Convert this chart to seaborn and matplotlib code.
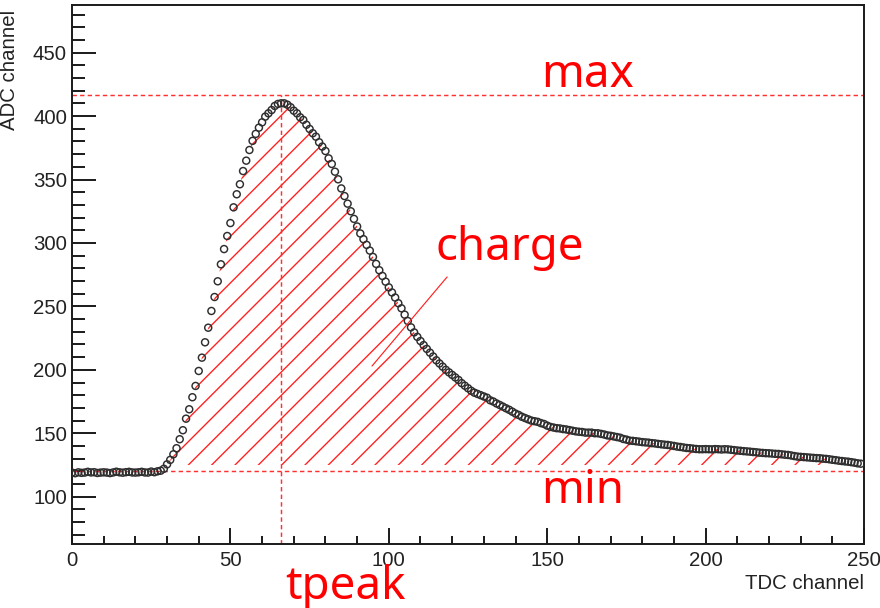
import matplotlib
matplotlib.use("Agg")
import matplotlib.pyplot as plt
import seaborn as sns
import numpy as np
import pandas as pd
from matplotlib.ticker import MultipleLocator

# ---------------- data ----------------
tdc_channel = list(range(250))
adc_value = [
    # 0-27 baseline
    119.0, 118.5, 119.2, 118.8, 119.0, 119.6, 119.1, 119.3, 118.7, 119.0,
    119.2, 119.0, 118.6, 119.1, 119.7, 119.2, 118.9, 119.3, 119.6, 119.1,
    119.0, 119.2, 119.6, 119.1, 119.0, 119.8, 119.3, 120.0,
    # 28-59 rise
    120.5, 122.0, 125.5, 129.0, 133.4, 138.2, 145.3, 152.4, 161.5, 168.9,
    178.4, 187.3, 199.1, 209.6, 221.7, 233.2, 246.4, 257.4, 269.8, 283.2,
    295.2, 305.5, 315.7, 328.1, 338.4, 346.3, 356.7, 364.9, 373.3, 380.5,
    386.0, 390.9,
    # 60-84 peak
    395.1, 399.6, 402.2, 404.8, 408.0, 409.6, 410.1, 410.1, 409.0, 407.0,
    404.3, 402.2, 399.1, 397.0, 393.2, 389.9, 386.5, 383.8, 379.4, 376.0,
    372.5, 366.7, 362.3, 356.2, 350.2,
    # 85-127 fall
    343.0, 337.0, 331.0, 325.0, 319.0, 313.0, 307.5, 303.0, 298.5, 294.0,
    289.0, 283.5, 278.5, 274.0, 269.5, 265.0, 261.0, 257.0, 252.5, 248.5,
    243.5, 238.5, 233.5, 229.5, 226.0, 222.7, 219.5, 216.5, 213.5, 210.5,
    207.5, 205.0, 202.5, 200.0, 198.0, 196.0, 194.0, 192.0, 189.5, 187.5,
    185.5, 183.5, 182.0,
    # 128-175 tail
    181.0, 180.0, 179.0, 178.0, 176.0, 175.0, 173.5, 172.3, 171.0, 169.7,
    168.5, 167.0, 165.5, 164.4, 163.0, 162.0, 161.0, 160.0, 159.5, 159.0,
    158.0, 157.3, 156.0, 155.0, 154.5, 154.0, 153.8, 153.3, 153.0, 152.5,
    152.0, 151.5, 151.2, 151.0, 150.5, 150.5, 150.5, 150.0, 150.0, 149.5,
    149.0, 148.3, 148.0, 147.5, 147.0, 146.5, 145.5, 145.0,
    # 176-249 tail end
    144.2, 144.0, 143.7, 143.4, 143.0, 142.8, 142.6, 142.2, 142.0, 141.6,
    141.3, 141.0, 140.8, 140.4, 140.0, 139.5, 139.2, 138.8, 138.4, 138.2,
    137.9, 137.6, 137.4, 137.4, 137.5, 137.4, 137.3, 137.5, 137.4, 137.2,
    137.4, 137.3, 137.0, 136.7, 136.4, 136.2, 135.9, 135.7, 135.5, 135.2,
    135.0, 134.7, 134.5, 134.3, 134.2, 134.0, 133.8, 133.7, 133.4, 133.1,
    132.9, 132.5, 132.0, 131.6, 131.4, 131.2, 131.0, 130.8, 130.6, 130.4,
    130.3, 130.0, 129.8, 129.5, 129.1, 128.8, 128.4, 128.1, 127.8, 127.6,
    127.2, 126.8, 126.3, 126.0,
]
x_ticks = [0, 50, 100, 150, 200, 250]
y_ticks = [100, 150, 200, 250, 300, 350, 400, 450]
x_limits = (0, 250)
y_limits = (62.7, 487.6)

max_level = 417.0
min_level = 120.0
hatch_floor = 125.0
tpeak = 66.0

x_title = "TDC channel"
y_title = "ADC channel"
labels = ["max", "charge", "min", "tpeak"]
label_pos = [(148.0, 423.0), (114.6, 286.4), (148.0, 95.0), (67.2, 19.6)]
charge_pointer = [(94.7, 203.0), (118.4, 273.2)]

# ---------------- style ----------------
sns.set_style("ticks")
plt.rcParams["font.family"] = ["Liberation Sans", "DejaVu Sans"]
plt.rcParams["hatch.linewidth"] = 0.7

DPI = 140
fig = plt.figure(figsize=(880 / DPI, 608 / DPI), dpi=DPI)
ax = fig.add_axes([72 / 880, 1 - 544 / 608, 792 / 880, 539 / 608])

df = pd.DataFrame({"tdc": tdc_channel, "adc": adc_value})

# hatched charge area
xa = np.array(tdc_channel, dtype=float)
ya = np.array(adc_value, dtype=float)
ax.fill_between(xa, hatch_floor, ya, where=(ya > hatch_floor) & (xa >= 27),
                interpolate=True, facecolor="none", edgecolor="#ff2020",
                hatch="//", linewidth=0, zorder=1)

# data points
sns.scatterplot(data=df, x="tdc", y="adc", ax=ax, marker="o", s=13,
                linewidth=0.75, zorder=3, legend=False)
pts = ax.collections[-1]
pts.set_facecolor("none")
pts.set_edgecolor("#2e2e2e")

# reference lines
dash = (0, (3.0, 2.2))
ax.axhline(max_level, color="#ff3030", lw=0.75, ls=dash, zorder=2)
ax.axhline(min_level, color="#ff3030", lw=0.75, ls=dash, zorder=2)
ax.vlines(tpeak, y_limits[0], max_level, color="#ff3030", lw=0.75,
          linestyles=[dash], zorder=2)

# charge pointer
ax.annotate("", xy=charge_pointer[0], xytext=charge_pointer[1],
            arrowprops=dict(arrowstyle="-", color="#ff2020", lw=0.6,
                            shrinkA=0, shrinkB=0))

for txt, (tx, ty) in zip(labels, label_pos):
    ax.text(tx, ty, txt, color="#ff0000", fontsize=23.5,
            family=["Noto Sans", "DejaVu Sans"], ha="left", va="baseline",
            clip_on=False, zorder=5)

# axes
ax.set_xlim(*x_limits)
ax.set_ylim(*y_limits)
ax.set_xticks(x_ticks)
ax.set_yticks(y_ticks)
ax.xaxis.set_minor_locator(MultipleLocator(10))
ax.yaxis.set_minor_locator(MultipleLocator(10))
ax.tick_params(axis="both", which="both", direction="in", colors="#1a1a1a",
               labelsize=10.5, width=1.0, top=False, right=False)
ax.tick_params(axis="y", which="major", length=12.3, pad=2.6)
ax.tick_params(axis="y", which="minor", length=6.7)
ax.tick_params(axis="x", which="major", length=8.2, pad=3.6)
ax.tick_params(axis="x", which="minor", length=4.1)
for lbl in ax.get_xticklabels() + ax.get_yticklabels():
    lbl.set_color("#222222")

for sp in ax.spines.values():
    sp.set_visible(True)
    sp.set_linewidth(1.0)
    sp.set_color("#1a1a1a")

ax.set_xlabel(x_title, fontsize=10.5, color="#222222", loc="right")
ax.set_ylabel(y_title, fontsize=10.5, color="#222222", loc="top")
ax.xaxis.set_label_coords(1.0, -30 / 539)
ax.yaxis.set_label_coords(-53 / 792, 1 - 5 / 539)

fig.savefig("out.png", dpi=DPI, facecolor="white")
